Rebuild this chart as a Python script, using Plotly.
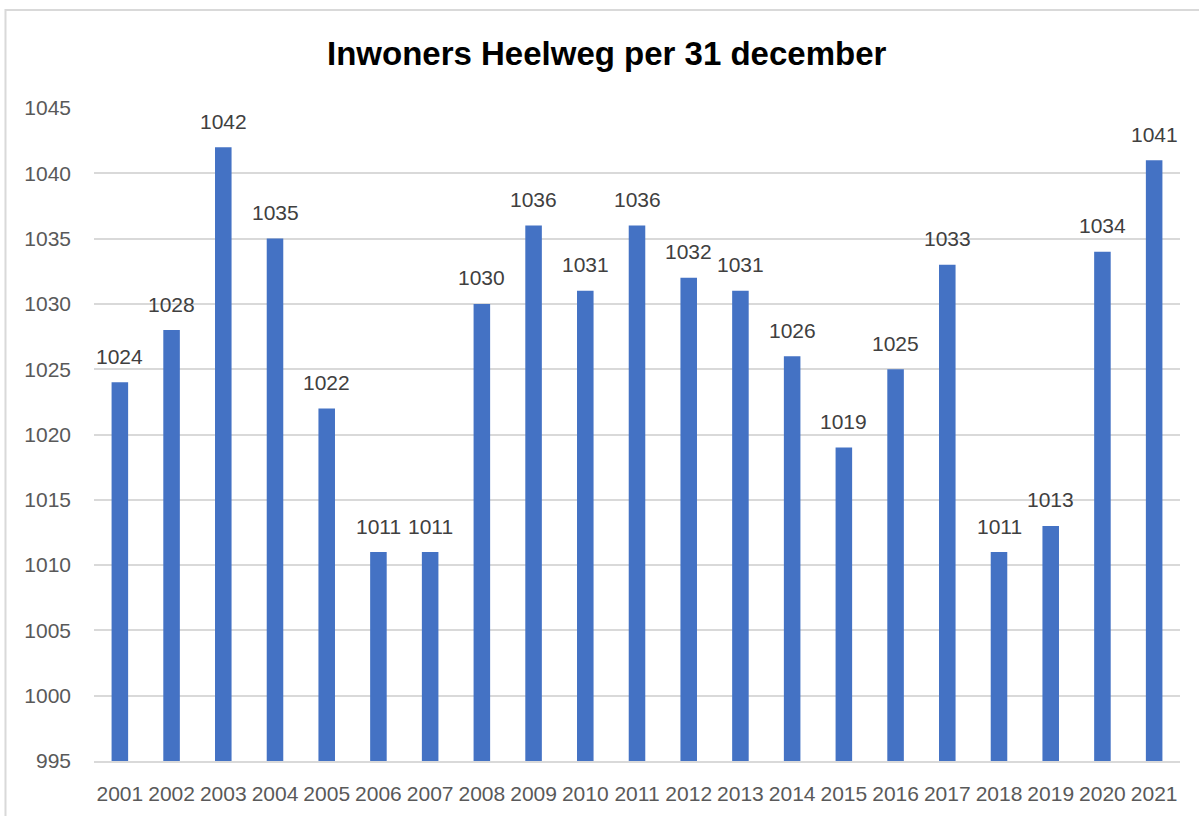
import plotly.graph_objects as go

# inwoners per jaar (31 december)
years = [str(y) for y in range(2001, 2022)]
inwoners = [1024, 1028, 1042, 1035, 1022, 1011, 1011, 1030, 1036, 1031, 1036,
            1032, 1031, 1026, 1019, 1025, 1033, 1011, 1013, 1034, 1041]
y_ticks = list(range(995, 1046, 5))

font_name = 'Liberation Sans'

fig = go.Figure(go.Bar(
    x=years,
    y=inwoners,
    marker=dict(color='#4472C4', line=dict(width=0)),
    hoverinfo='x+y',
))

# data labels above the bars (x as category index)
for i, val in enumerate(inwoners):
    fig.add_annotation(
        x=i, y=val, text=str(val), showarrow=False,
        yshift=26, font=dict(family=font_name, size=21, color='#404040'),
    )

# outer chart border (partly outside the picture, like the reference)
fig.add_shape(
    type='rect', xref='paper', yref='paper',
    x0=-0.0815, x1=1.2, y0=-0.3, y1=1.150,
    line=dict(color='#d9d9d9', width=2), layer='below',
)

fig.update_layout(
    width=1199,
    height=816,
    title=dict(
        text='<b>Inwoners Heelweg per 31 december</b>',
        x=0.506, xanchor='center', y=0.935, yanchor='middle',
        font=dict(family=font_name, size=33, color='#000000'),
    ),
    bargap=0.68,
    plot_bgcolor='white',
    paper_bgcolor='white',
    margin=dict(l=94, r=19, t=108, b=55),
    showlegend=False,
    xaxis=dict(
        type='category',
        range=[-0.5, len(years) - 0.5],
        automargin=False,
        showgrid=False,
        showline=True,
        linecolor='#d9d9d9',
        linewidth=2,
        ticks='',
        ticklabelstandoff=13,
        tickfont=dict(family=font_name, size=21, color='#595959'),
    ),
    yaxis=dict(
        range=[995, 1045],
        automargin=False,
        tickmode='array',
        tickvals=y_ticks,
        showgrid=True,
        gridcolor='#d9d9d9',
        gridwidth=1.5,
        zeroline=False,
        showline=False,
        ticks='',
        ticklabelstandoff=22,
        tickfont=dict(family=font_name, size=21, color='#595959'),
    ),
)

# no default page margin, so the figure fills the window like the reference
fig.write_html("out.html", config={'displayModeBar': False},
               post_script="document.body.style.margin='0';")
